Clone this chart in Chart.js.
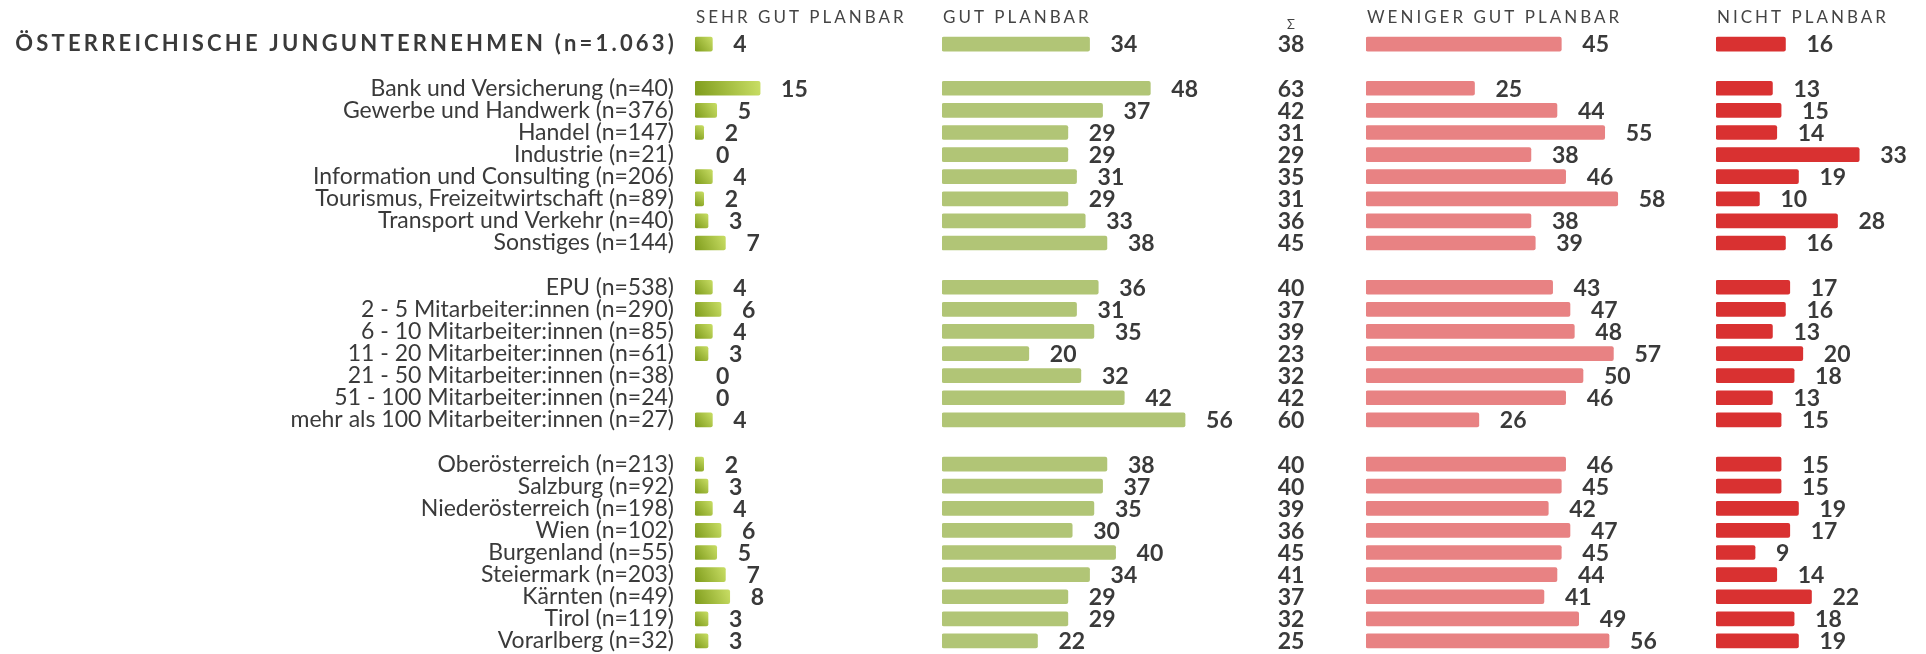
<!DOCTYPE html>
<html lang="de">
<head>
<meta charset="utf-8">
<title>Planbarkeit Junggründer</title>
<script src="https://cdn.jsdelivr.net/npm/chart.js@4.4.1/dist/chart.umd.min.js"></script>
<style>
    html, body { margin: 0; padding: 0; background: #fff; }
    #wrap { position: relative; width: 1926px; height: 654px; }
</style>
</head>
<body>
<div id="wrap"><canvas id="planChart"></canvas></div>
<script>
// categories ('' = empty spacer row)
const categories = [
    'ÖSTERREICHISCHE JUNGUNTERNEHMEN (n=1.063)', '',
    'Bank und Versicherung (n=40)', 'Gewerbe und Handwerk (n=376)', 'Handel (n=147)', 'Industrie (n=21)',
    'Information und Consulting (n=206)', 'Tourismus, Freizeitwirtschaft (n=89)', 'Transport und Verkehr (n=40)',
    'Sonstiges (n=144)', '',
    'EPU (n=538)', '2 - 5 Mitarbeiter:innen (n=290)', '6 - 10 Mitarbeiter:innen (n=85)',
    '11 - 20 Mitarbeiter:innen (n=61)', '21 - 50 Mitarbeiter:innen (n=38)', '51 - 100 Mitarbeiter:innen (n=24)',
    'mehr als 100 Mitarbeiter:innen (n=27)', '',
    'Oberösterreich (n=213)', 'Salzburg (n=92)', 'Niederösterreich (n=198)', 'Wien (n=102)',
    'Burgenland (n=55)', 'Steiermark (n=203)', 'Kärnten (n=49)', 'Tirol (n=119)', 'Vorarlberg (n=32)'
];

const sehrGut = [4, null, 15, 5, 2, 0, 4, 2, 3, 7, null, 4, 6, 4, 3, 0, 0, 4, null, 2, 3, 4, 6, 5, 7, 8, 3, 3];
const gut = [34, null, 48, 37, 29, 29, 31, 29, 33, 38, null, 36, 31, 35, 20, 32, 42, 56, null, 38, 37, 35, 30, 40, 34, 29, 29, 22];
const summe = [38, null, 63, 42, 31, 29, 35, 31, 36, 45, null, 40, 37, 39, 23, 32, 42, 60, null, 40, 40, 39, 36, 45, 41, 37, 32, 25];
const wenigerGut = [45, null, 25, 44, 55, 38, 46, 58, 38, 39, null, 43, 47, 48, 57, 50, 46, 26, null, 46, 45, 42, 47, 45, 44, 41, 49, 56];
const nicht = [16, null, 13, 15, 14, 33, 19, 10, 28, 16, null, 17, 16, 13, 20, 18, 13, 15, null, 15, 15, 19, 17, 9, 14, 22, 18, 19];

const headers = {
    xSehr: 'SEHR GUT PLANBAR',
    xGut: 'GUT PLANBAR',
    xWeniger: 'WENIGER GUT PLANBAR',
    xNicht: 'NICHT PLANBAR'
};

// column widths in px, all columns share the same px per percent
const PX_PER_UNIT = 4.34;
const colWidth = { xSehr: 247, xGut: 274, xSum: 150, xWeniger: 350, xNicht: 210 };

const TEXT = '#3a3a3a';

function columnAxis(id) {
    return {
        type: 'linear',
        position: 'bottom',
        stack: 'cols',
        stackWeight: colWidth[id],
        min: 0,
        max: colWidth[id] / PX_PER_UNIT,
        ticks: { display: false },
        grid: { display: false, drawTicks: false },
        border: { display: false },
        afterFit: scale => { scale.height = 0; }
    };
}

function sehrGutGradient(context) {
    const chart = context.chart;
    if (!context.raw) return 'rgba(0,0,0,0)';
    if (!chart.chartArea) return '#a6c040';
    const xs = chart.scales.xSehr;
    const y = chart.scales.y.getPixelForValue(context.dataIndex);
    const x0 = xs.getPixelForValue(0);
    const x1 = xs.getPixelForValue(context.raw);
    const g = chart.ctx.createLinearGradient(x0, y + 7, x1 + 1, y - 7);
    g.addColorStop(0, '#7f9c1c');
    g.addColorStop(1, '#cadf66');
    return g;
}

// value labels, sum column, headers and the bold title row
const textPlugin = {
    id: 'planText',
    afterDatasetsDraw(chart) {
        const ctx = chart.ctx;
        const yScale = chart.scales.y;
        ctx.save();

        ctx.fillStyle = TEXT;
        ctx.font = 'bold 23px Lato';
        ctx.textBaseline = 'middle';
        ctx.textAlign = 'left';
        chart.data.datasets.forEach((ds, di) => {
            const meta = chart.getDatasetMeta(di);
            meta.data.forEach((bar, i) => {
                if (ds.data[i] === null) return;
                ctx.fillText(String(ds.data[i]), bar.x + 21, bar.y + 1);
            });
        });

        const sumScale = chart.scales.xSum;
        const sumX = sumScale.left + sumScale.width / 2;
        ctx.textAlign = 'center';
        summe.forEach((v, i) => {
            if (v === null) return;
            ctx.fillText(String(v), sumX, yScale.getPixelForValue(i) + 1);
        });

        ctx.font = '13px Lato';
        ctx.fillStyle = '#444';
        ctx.fillText('Σ', sumX, 25);

        ctx.textAlign = 'left';
        ctx.font = '17px Lato';
        ctx.letterSpacing = '3px';
        Object.keys(headers).forEach(id => {
            ctx.fillText(headers[id], chart.scales[id].left + 1, 18);
        });

        ctx.fillStyle = TEXT;
        ctx.font = 'bold 22px Lato';
        ctx.letterSpacing = '3.2px';
        ctx.textAlign = 'right';
        ctx.fillText(categories[0], yScale.right - 18, yScale.getPixelForValue(0));
        ctx.restore();
    }
};

const barBase = {
    type: 'bar',
    grouped: false,
    barThickness: 14,
    borderRadius: 2,
    borderSkipped: false
};

const ctx = document.getElementById('planChart').getContext('2d');

const planChart = new Chart(ctx, {
    type: 'bar',
    data: {
        labels: categories,
        datasets: [
            Object.assign({}, barBase, { label: headers.xSehr, data: sehrGut, xAxisID: 'xSehr', backgroundColor: sehrGutGradient }),
            Object.assign({}, barBase, { label: headers.xGut, data: gut, xAxisID: 'xGut', backgroundColor: '#b1c576' }),
            Object.assign({}, barBase, { label: headers.xWeniger, data: wenigerGut, xAxisID: 'xWeniger', backgroundColor: '#e88283' }),
            Object.assign({}, barBase, { label: headers.xNicht, data: nicht, xAxisID: 'xNicht', backgroundColor: '#d93131' })
        ]
    },
    options: {
        indexAxis: 'y',
        responsive: true,
        maintainAspectRatio: false,
        devicePixelRatio: 1,
        animation: false,
        layout: { padding: { top: 33, bottom: 2, left: 0, right: 0 } },
        plugins: {
            legend: { display: false },
            tooltip: { enabled: false }
        },
        scales: {
            y: {
                type: 'category',
                offset: true,
                grid: { display: false, drawTicks: false },
                border: { display: false },
                afterFit: scale => {
                    scale.width = 695;
                    scale.paddingTop = 0;
                    scale.paddingBottom = 0;
                },
                ticks: {
                    autoSkip: false,
                    padding: 21,
                    color: TEXT,
                    font: { family: 'Lato', size: 23 },
                    callback: function (value, index) {
                        return index === 0 ? '' : this.getLabelForValue(value);
                    }
                }
            },
            xSehr: columnAxis('xSehr'),
            xGut: columnAxis('xGut'),
            xSum: columnAxis('xSum'),
            xWeniger: columnAxis('xWeniger'),
            xNicht: columnAxis('xNicht')
        }
    },
    plugins: [textPlugin]
});
</script>
</body>
</html>
